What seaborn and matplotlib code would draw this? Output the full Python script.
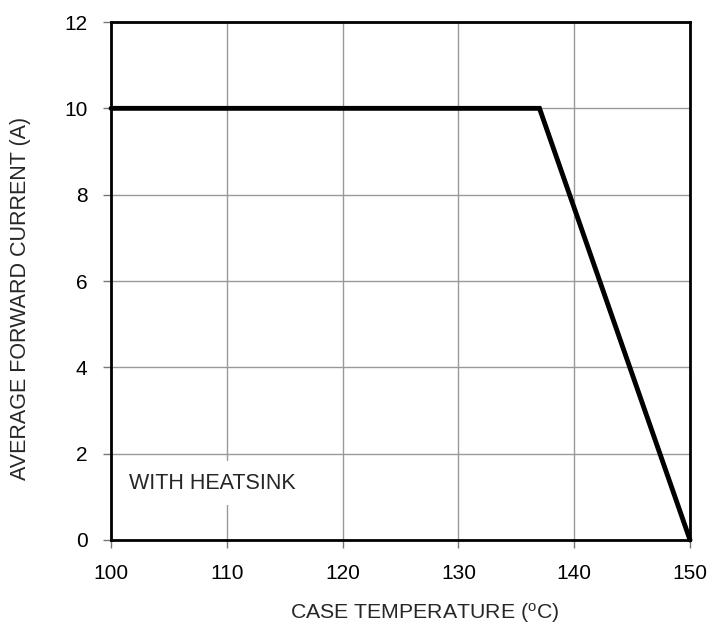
import matplotlib
matplotlib.use("Agg")
import matplotlib.pyplot as plt
import seaborn as sns
import pandas as pd

temp = [100, 137, 150]
current = [10, 10, 0]
x_ticks = [100, 110, 120, 130, 140, 150]
y_ticks = [0, 2, 4, 6, 8, 10, 12]

sns.set_theme(style="white")
plt.rcParams['font.family'] = ['Liberation Sans', 'DejaVu Sans']
plt.rcParams['mathtext.fontset'] = 'custom'
plt.rcParams['mathtext.rm'] = 'Liberation Sans'

df = pd.DataFrame({"temp": temp, "current": current})

fig = plt.figure(figsize=(7.07, 6.29), dpi=100)
ax = fig.add_axes([0.157, 0.1415, 0.819, 0.8235])

ax.set_xlim(100, 150)
ax.set_ylim(0, 12)
ax.set_xticks(x_ticks)
ax.set_yticks(y_ticks)
ax.grid(True, color="#999999", linewidth=1.0)
ax.set_axisbelow(True)

sns.lineplot(data=df, x="temp", y="current", ax=ax, color="black", linewidth=3.5,
             solid_joinstyle="miter", clip_on=False, zorder=5)

for s in ax.spines.values():
    s.set_color("black")
    s.set_linewidth(2)
ax.tick_params(axis="both", direction="out", length=6, width=1, color="#777777",
               labelsize=15, labelcolor="black", pad=11, bottom=True, left=True)

ax.set_xlabel("")
ax.set_ylabel("")
fig.text(425 / 707, 1 - 613 / 629, "CASE TEMPERATURE ($\\mathregular{^{o}}$C)",
         ha="center", va="center", fontsize=15.3)
fig.text(21 / 707, 1 - 298 / 629, "AVERAGE FORWARD CURRENT (A)", rotation=90,
         ha="center", va="center", fontsize=15.5)

ax.text(101.55, 1.32, "WITH HEATSINK", fontsize=15.5, va="center", ha="left",
        bbox=dict(facecolor="white", edgecolor="none", pad=8), zorder=4)

fig.savefig("out.png", dpi=100)
